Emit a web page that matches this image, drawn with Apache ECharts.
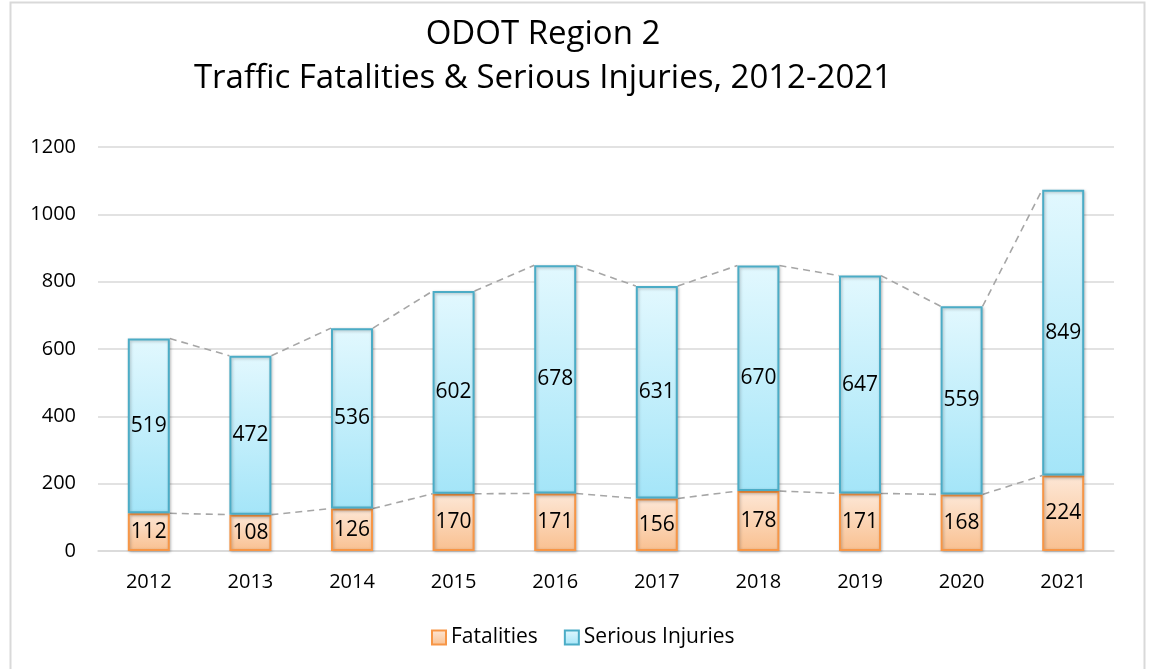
<!DOCTYPE html>
<html>
<head>
<meta charset="utf-8">
<script src="https://cdn.jsdelivr.net/npm/echarts@6/dist/echarts.min.js"></script>
<style>
  html, body { margin: 0; padding: 0; background: #fff; }
  #main { width: 1149px; height: 669px; }
</style>
</head>
<body>
<div id="main"></div>
<script>
const years = ['2012', '2013', '2014', '2015', '2016', '2017', '2018', '2019', '2020', '2021']
const fatalities = [112, 108, 126, 170, 171, 156, 178, 171, 168, 224]
const seriousInjuries = [519, 472, 536, 602, 678, 631, 670, 647, 559, 849]
const yTicks = [0, 200, 400, 600, 800, 1000, 1200]

const FONT = '"Open Sans", Lato, sans-serif'
const BAR_W = 42

// tops of each stack, used for the dashed series lines between bars
const fatTop = fatalities.slice()
const totalTop = fatalities.map((v, i) => v + seriousInjuries[i])

function linkData(tops) {
  let out = []
  for (let i = 0; i < tops.length - 1; i++) out.push([i, tops[i], tops[i + 1]])
  return out
}

function seriesLine(params, api) {
  let a = api.coord([api.value(0), api.value(1)])
  let b = api.coord([api.value(0) + 1, api.value(2)])
  return {
    type: 'line',
    shape: { x1: a[0] + BAR_W / 2, y1: a[1], x2: b[0] - BAR_W / 2, y2: b[1] },
    style: { stroke: '#a6a6a6', lineWidth: 1.6, lineDash: [7, 5] }
  }
}

const chart = echarts.init(document.getElementById('main'))

chart.setOption({
  animation: false,
  title: {
    text: 'ODOT Region 2\nTraffic Fatalities & Serious Injuries, 2012-2021',
    left: 538,
    textAlign: 'center',
    top: 8,
    textStyle: { fontFamily: FONT, fontSize: 33, fontWeight: 'normal', color: '#000', lineHeight: 44 }
  },
  graphic: [{
    type: 'rect',
    shape: { x: 10.5, y: 2.5, width: 1134, height: 680 },
    style: { fill: 'none', stroke: '#d9d9d9', lineWidth: 2 },
    silent: true
  }],
  legend: {
    bottom: 16,
    left: 426,
    itemWidth: 14,
    itemHeight: 14,
    itemGap: 26,
    icon: 'rect',
    textStyle: { fontFamily: FONT, fontSize: 21, color: '#000' },
    data: ['Fatalities', 'Serious Injuries']
  },
  grid: { left: 98, right: 35, top: 147, bottom: 118 },
  xAxis: {
    type: 'category',
    data: years,
    axisTick: { show: false },
    axisLine: { lineStyle: { color: '#d9d9d9', width: 1.5 } },
    axisLabel: { fontFamily: FONT, fontSize: 20, color: '#000', margin: 21 }
  },
  yAxis: {
    type: 'value',
    min: yTicks[0],
    max: yTicks[yTicks.length - 1],
    interval: 200,
    axisLine: { show: false },
    axisTick: { show: false },
    splitLine: { lineStyle: { color: '#d9d9d9', width: 1.5 } },
    axisLabel: { fontFamily: FONT, fontSize: 20, color: '#000', margin: 22, formatter: v => String(v) }
  },
  series: [
    {
      name: 'Fatalities',
      type: 'bar',
      stack: 'total',
      barWidth: BAR_W,
      data: fatalities,
      itemStyle: {
        color: new echarts.graphic.LinearGradient(0, 0, 0, 1, [
          { offset: 0, color: '#fde7d6' },
          { offset: 1, color: '#f9c090' }
        ]),
        borderColor: '#f79646',
        borderWidth: 2,
        shadowColor: 'rgba(0,0,0,0.25)',
        shadowBlur: 3,
        shadowOffsetX: 1,
        shadowOffsetY: 1
      },
      label: { show: true, position: 'inside', fontFamily: FONT, fontSize: 21, color: '#000' }
    },
    {
      name: 'Serious Injuries',
      type: 'bar',
      stack: 'total',
      barWidth: BAR_W,
      data: seriousInjuries,
      itemStyle: {
        color: new echarts.graphic.LinearGradient(0, 0, 0, 1, [
          { offset: 0, color: '#e2f8fe' },
          { offset: 1, color: '#a4e5f8' }
        ]),
        borderColor: '#4bacc6',
        borderWidth: 2,
        shadowColor: 'rgba(0,0,0,0.25)',
        shadowBlur: 3,
        shadowOffsetX: 1,
        shadowOffsetY: 1
      },
      label: { show: true, position: 'inside', fontFamily: FONT, fontSize: 21, color: '#000' }
    },
    {
      type: 'custom',
      renderItem: seriesLine,
      data: linkData(fatTop),
      encode: { x: 0, y: [1, 2] },
      silent: true,
      z: 1
    },
    {
      type: 'custom',
      renderItem: seriesLine,
      data: linkData(totalTop),
      encode: { x: 0, y: [1, 2] },
      silent: true,
      z: 1
    }
  ]
})
</script>
</body>
</html>
